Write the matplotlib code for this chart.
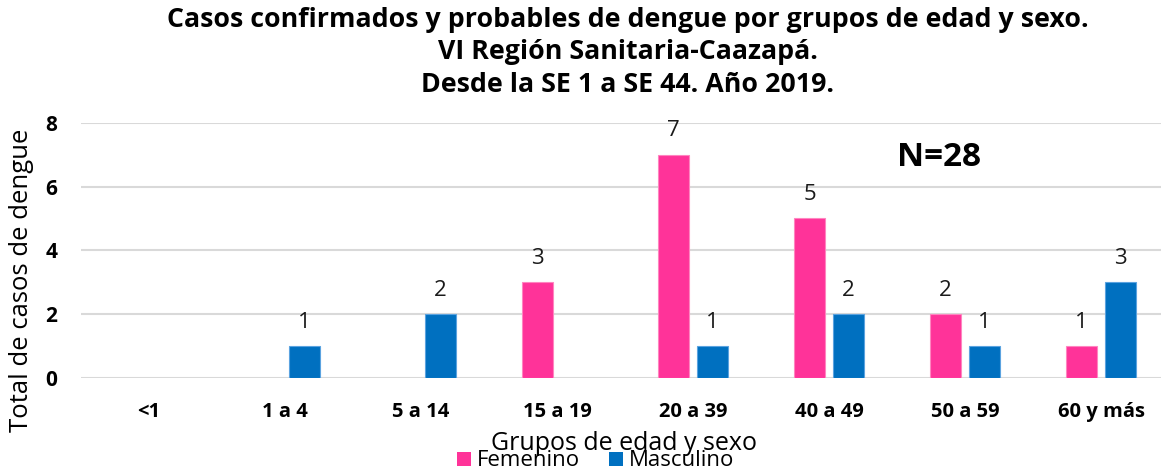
import matplotlib
matplotlib.use("Agg")
import matplotlib.pyplot as plt
import numpy as np
from matplotlib.patches import Patch

categorias = ["<1", "1 a 4", "5 a 14", "15 a 19", "20 a 39", "40 a 49", "50 a 59", "60 y más"]
femenino = [0, 0, 0, 3, 7, 5, 2, 1]
masculino = [0, 1, 2, 0, 1, 2, 1, 3]
titulo = "Casos confirmados y probables de dengue por grupos de edad y sexo.\nVI Región Sanitaria-Caazapá.\nDesde la SE 1 a SE 44. Año 2019."

plt.rcParams['font.family'] = ['Open Sans', 'DejaVu Sans']

W, H = 1161, 471
fig = plt.figure(figsize=(W/100, H/100), dpi=100)
left = 81/W
width = 1088/W
bottom = 1 - 378/H
top = 1 - 122.7/H
ax = fig.add_axes([left, bottom, width, top - bottom])

x = np.arange(len(categorias))
bw = 0.224
off = 0.142
c_f = "#FF3399"
c_m = "#0070C0"
for i in range(len(categorias)):
    if femenino[i] > 0:
        ax.bar(x[i] - off, femenino[i], bw, color=c_f, edgecolor="#FF85C0", linewidth=0.8, zorder=3)
        ax.text(x[i] - off, femenino[i] + 0.75, str(femenino[i]), ha="center", va="center", fontsize=16, color="#1a1a1a")
    if masculino[i] > 0:
        ax.bar(x[i] + off, masculino[i], bw, color=c_m, edgecolor="#5BA3E0", linewidth=0.8, zorder=3)
        ax.text(x[i] + off, masculino[i] + 0.75, str(masculino[i]), ha="center", va="center", fontsize=16, color="#1a1a1a")

ax.set_xlim(-0.5, 7.5)
ax.set_ylim(0, 8)
ax.set_yticks([0, 2, 4, 6, 8])
ax.set_xticks(x)
ax.set_xticklabels(categorias, fontsize=14.5, fontweight="bold")
for lab in ax.get_yticklabels():
    lab.set_fontsize(15)
    lab.set_fontweight("bold")
ax.tick_params(axis="both", length=0)
ax.tick_params(axis="x", pad=17)
ax.tick_params(axis="y", pad=17)
ax.yaxis.grid(True, color="#D9D9D9", linewidth=1.5, zorder=0)
ax.set_axisbelow(True)
for s in ax.spines.values():
    s.set_visible(False)

lineas = titulo.split("\n")
for yy, t in zip([20, 52, 85], lineas):
    fig.text(628/W, 1 - yy/H, t, ha="center", va="center", fontsize=19.3, fontweight="bold")
fig.text(939/W, 1 - 158/H, "N=28", ha="center", va="center", fontsize=24, fontweight="bold")
fig.text(22/W, 1 - 280/H, "Total de casos de dengue", rotation=90, ha="center", va="center", fontsize=18.5)
fig.text(624/W, 1 - 444/H, "Grupos de edad y sexo", ha="center", va="center", fontsize=18)

handles = [Patch(facecolor=c_f, label="Femenino"), Patch(facecolor=c_m, label="Masculino")]
fig.legend(handles=handles, loc="center", bbox_to_anchor=(596/W, 1 - 461/H), ncol=2, frameon=False,
           fontsize=16, handlelength=0.6, handleheight=0.6, handletextpad=0.3, columnspacing=1.3,
           borderpad=0, borderaxespad=0)

fig.savefig("out.png", dpi=100)
